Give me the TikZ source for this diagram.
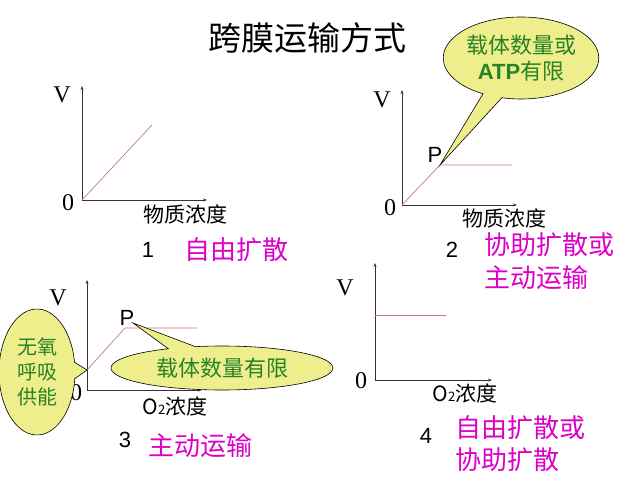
\documentclass[tikz,border=0pt]{standalone}
\usepackage{fontspec}
\setmainfont{Liberation Serif}
\newfontfamily\cjk{Noto Sans CJK SC}
\newfontfamily\arial{Liberation Sans}
\usetikzlibrary{shapes.callouts,arrows.meta}
\definecolor{callfill}{RGB}{238,238,140}
\definecolor{callgreen}{RGB}{40,130,40}
\definecolor{mag}{RGB}{220,0,200}
\definecolor{curve}{RGB}{200,120,120}
\tikzset{
 axis/.style={draw=black!80,line width=0.6pt,-{Stealth[length=4pt,width=3pt]}},
 crv/.style={draw=curve,line width=0.7pt},
 lbl/.style={inner sep=0pt,font=\fontsize{24}{26}\selectfont},
 xl/.style={inner sep=0pt,font=\cjk\fontsize{21}{23}\selectfont},
 num/.style={inner sep=0pt,font=\arial\fontsize{22}{24}\selectfont},
 kind/.style={inner sep=0pt,text=mag,font=\cjk\fontsize{26}{30}\selectfont,align=left},
 call/.style={ellipse callout,draw=black,line width=0.6pt,fill=callfill,text=callgreen,inner sep=0pt,align=center,font=\cjk\fontsize{22}{26}\selectfont}
}
\begin{document}
\begin{tikzpicture}[x=1pt,y=-1pt]
\useasboundingbox (0,0) rectangle (640,492);
\node[inner sep=0pt,font=\cjk\fontsize{33}{36}\selectfont] (title) at (307,38) {跨膜运输方式};
% graph 1
\coordinate (o1) at (82,200);
\draw[axis] (o1) -- (82,86);
\draw[axis] (o1) -- (207,200);
\draw[crv] (o1) -- (152,125);
\node[lbl] (v1) at (62,95) {V};
\node[lbl] (z1) at (68,203) {0};
\node[xl] (x1) at (185,214) {物质浓度};
\node[num] (n1) at (148,250) {1};
\node[kind] (k1) at (236,250) {自由扩散};
% graph 2
\coordinate (o2) at (402,205);
\coordinate (p2) at (440,165);
\draw[axis] (o2) -- (402,90);
\draw[axis] (o2) -- (517,205);
\draw[crv] (o2) -- (p2) -- (512,165);
\node[lbl] (v2) at (382,100) {V};
\node[lbl] (z2) at (390,208) {0};
\node[xl] (x2) at (504,218) {物质浓度};
\node[num] (n2) at (452,250) {2};
\node[kind,anchor=west] (k2) at (484,245) {协助扩散或};
\node[kind,anchor=west] (k2b) at (484,278) {主动运输};
\node[num] (pp2) at (435,155) {P};
\node[call,minimum width=134pt,minimum height=82pt,callout absolute pointer={(p2)}] (c2) at (521,58) {载体数量或\\{\arial\bfseries ATP}有限};
% graph 3
\coordinate (o3) at (87,390);
\coordinate (s3) at (87,370);
\coordinate (p3) at (125,328);
\draw[axis] (o3) -- (87,280);
\draw[axis] (o3) -- (202,390);
\draw[crv] (s3) -- (p3) -- (197,328);
\node[lbl] (v3) at (58,298) {V};
\node[lbl] (z3) at (76,393) {0};
\node[xl] (x3) at (175,406) {O{\fontsize{13}{14}\selectfont 2}浓度};
\node[num] (n3) at (125,440) {3};
\node[kind] (k3) at (200,446) {主动运输};
\node[num] (pp3) at (127,318) {P};
\node[call,minimum width=222pt,minimum height=44pt,callout absolute pointer={(133,323)}] (c3) at (222,368) {载体数量有限};
\node[call,minimum width=76pt,minimum height=126pt,callout absolute pointer={(s3)},font=\cjk\fontsize{20}{25}\selectfont] (c3b) at (37,372) {无氧\\呼吸\\供能};
% graph 4
\coordinate (o4) at (375,380);
\draw[axis] (o4) -- (375,263);
\draw[axis] (o4) -- (492,380);
\draw[crv] (375,315) -- (446,315);
\node[lbl] (v4) at (345,288) {V};
\node[lbl] (z4) at (361,381) {0};
\node[xl] (x4) at (465,393) {O{\fontsize{13}{14}\selectfont 2}浓度};
\node[num] (n4) at (426,436) {4};
\node[kind,anchor=west] (k4) at (455,428) {自由扩散或};
\node[kind,anchor=west] (k4b) at (455,460) {协助扩散};
\end{tikzpicture}
\end{document}
